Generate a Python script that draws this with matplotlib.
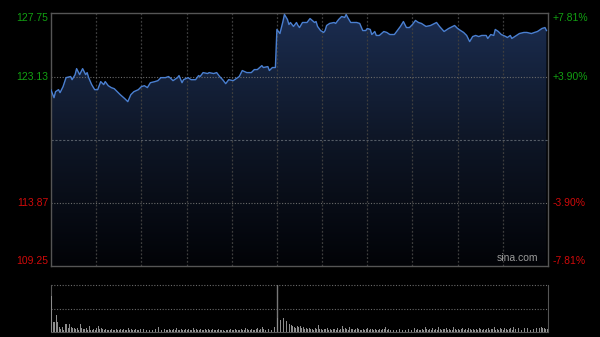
import numpy as np
import matplotlib.pyplot as plt
from matplotlib.colors import LinearSegmentedColormap
from matplotlib.transforms import blended_transform_factory

# intraday price (minutes from open, HK session: 330 minutes incl. lunch split at 150)
minutes = [0, 2, 3, 5, 6, 8, 10, 13, 14, 16, 17, 19, 20, 21, 23, 24, 25, 27, 29, 31,
           33, 35, 36, 38, 40, 42, 44, 46, 49, 51, 53, 55, 58, 60, 62, 64, 66, 69, 71, 73,
           76, 78, 79, 81, 84, 85, 87, 88, 91, 93, 96, 98, 99, 101, 104, 105, 108, 110, 112, 114,
           116, 118, 121, 124, 125, 127, 130, 133, 135, 137, 140, 141, 144, 145, 147, 149,
           150, 152, 154, 155, 157, 158, 159, 161, 163, 164, 165, 167, 170, 172, 175, 176, 177, 179,
           181, 182, 183, 185, 188, 189, 191, 193, 195, 196, 197, 199, 201, 203, 205, 207, 209, 210,
           212, 213, 215, 216, 218, 221, 223, 225, 228, 230, 232, 234, 236, 238, 240, 242, 244, 246,
           249, 252, 256, 258, 261, 264, 268, 270, 272, 274, 276, 278, 280, 282, 284, 286, 289, 290,
           292, 294, 295, 297, 299, 302, 303, 305, 306, 309, 311, 314, 316, 319, 321, 323, 326, 328, 329]
prices = [122.15, 121.58, 122.02, 122.17, 121.95, 122.39, 123.05, 123.13, 122.90, 123.27,
          123.71, 123.27, 123.49, 123.71, 123.27, 123.42, 123.05, 122.54, 122.17, 122.17,
          122.76, 122.54, 122.76, 122.46, 122.32, 122.24, 122.02, 121.80, 121.51, 121.29,
          121.80, 122.02, 122.17, 122.39, 122.46, 122.32, 122.68, 122.76, 122.83, 123.05,
          123.05, 123.13, 123.05, 122.83, 123.05, 123.20, 122.68, 122.90, 123.05, 122.90,
          122.90, 123.20, 123.13, 123.42, 123.35, 123.42, 123.35, 123.42, 123.13, 122.90,
          122.61, 122.90, 122.83, 123.05, 123.13, 123.57, 123.42, 123.42, 123.64, 123.64,
          123.93, 123.79, 123.86, 123.57, 123.79, 123.79,
          126.58, 126.28, 127.16, 127.68, 127.31, 126.94, 127.09, 126.80, 127.09, 126.87,
          126.72, 127.09, 127.09, 127.38, 127.09, 127.16, 126.80, 126.50, 126.36, 126.50,
          126.87, 127.02, 127.09, 127.02, 127.31, 127.53, 127.46, 127.68, 127.46, 127.09,
          127.09, 127.09, 127.02, 126.50, 126.50, 126.65, 126.58, 126.21, 126.43, 126.14,
          126.14, 126.43, 126.36, 126.21, 126.21, 126.50, 126.80, 127.16, 126.72, 126.72,
          126.94, 127.24, 127.09, 127.02, 126.80, 126.87, 127.09, 126.80, 126.43, 126.65,
          126.87, 126.65, 126.50, 126.36, 126.14, 125.69, 126.06, 126.14, 126.06, 126.14,
          126.14, 125.92, 126.21, 126.14, 126.58, 126.43, 126.21, 126.06, 125.99, 126.14,
          125.92, 126.14, 126.28, 126.36, 126.36, 126.28, 126.36, 126.43, 126.65, 126.72, 126.50]

volume = [36, 10, 10, 17, 10, 5, 3, 5, 2, 8, 8, 4, 8, 5, 4, 4, 3, 4, 2, 8,
          4, 3, 3, 4, 2, 6, 2, 2, 3, 2, 4, 6, 3, 4, 3, 2, 3, 2, 2, 2,
          3, 2, 2, 3, 2, 2, 3, 2, 3, 2, 2, 4, 2, 3, 2, 2, 3, 2, 2, 3,
          2, 3, 2, 2, 4, 2, 3, 2, 2, 3, 2, 5, 3, 2, 2, 3, 2, 2, 3, 2,
          2, 3, 2, 4, 2, 2, 3, 2, 2, 3, 2, 3, 2, 2, 4, 2, 3, 2, 2, 3,
          2, 2, 3, 2, 3, 2, 2, 3, 2, 2, 2, 3, 2, 2, 2, 1, 2, 2, 2, 3,
          2, 2, 3, 2, 2, 2, 3, 2, 2, 4, 3, 2, 2, 3, 2, 2, 3, 4, 2, 3,
          5, 3, 2, 4, 3, 6, 2, 3, 5, 2,
          14, 12, 12, 10, 14, 9, 11, 7, 8, 7, 6, 5, 4, 6, 5, 6, 4, 5, 3, 4,
          3, 4, 3, 3, 2, 4, 3, 7, 3, 3, 2, 3, 3, 4, 2, 3, 2, 3, 3, 2,
          4, 2, 3, 6, 3, 4, 3, 2, 5, 3, 3, 2, 3, 4, 3, 2, 2, 3, 2, 3,
          4, 2, 3, 3, 2, 3, 2, 2, 3, 2, 3, 3, 5, 2, 3, 2, 2, 2, 3, 2,
          2, 3, 2, 2, 3, 2, 6, 3, 2, 2, 2, 4, 2, 3, 2, 2, 3, 2, 5, 3,
          2, 3, 2, 4, 2, 3, 2, 5, 3, 2, 3, 3, 4, 2, 3, 2, 2, 5, 3, 2,
          3, 2, 3, 4, 2, 3, 2, 4, 3, 2, 3, 2, 3, 2, 4, 3, 2, 3, 2, 3,
          4, 2, 3, 3, 5, 2, 3, 2, 4, 3, 2, 4, 3, 2, 3, 4, 2, 5, 3, 3,
          4, 3, 2, 3, 4, 3, 4, 3, 2, 4, 3, 4, 4, 3, 4, 5, 4, 4, 3, 3]

left_labels = ['127.75', '123.13', '113.87', '109.25']
left_values = [127.75, 123.13, 113.87, 109.25]
right_labels = ['+7.81%', '+3.90%', '-3.90%', '-7.81%']
prev_close = 118.51
ymin, ymax = 109.25, 127.75
session = 330
lunch = 150

green = '#12a012'
red = '#d00a0a'
grid_c = '#3e3e3e'

fig = plt.figure(figsize=(6, 3.37), dpi=100, facecolor='black')
ax = fig.add_axes([0.085, 0.2107, 0.8283, 0.7493])
ax.set_facecolor('black')
ax.set_xlim(0, session)
ax.set_ylim(ymin, ymax)

# gradient area under the line
poly = ax.fill_between(minutes, prices, ymin, color='none', lw=0)
cmap = LinearSegmentedColormap.from_list('area', ['#020307', '#0e1626', '#1b2d50'])
grad = np.linspace(1, 0, 256).reshape(-1, 1)
im = ax.imshow(grad, extent=[0, session, ymin, ymax], aspect='auto', cmap=cmap,
               origin='upper', zorder=1)
im.set_clip_path(poly.get_paths()[0], transform=ax.transData)

for m in range(30, session, 30):
    ax.axvline(m, color=grid_c, lw=0.9, ls=(0, (1.5, 1.5)), zorder=2)
for v in [123.13, 113.87]:
    ax.axhline(v, color='#6a6a6a', lw=0.8, ls=(0, (1, 1.5)), zorder=2)
ax.axhline(prev_close, color='#555c66', lw=0.8, ls=(0, (2, 1.5)), zorder=2)

ax.plot(minutes, prices, color='#4a7fd0', lw=1.0, zorder=3)

for s in ax.spines.values():
    s.set_color('#555555')
    s.set_linewidth(1)
ax.set_xticks([])
ax.set_yticks([])

tr = blended_transform_factory(ax.transAxes, ax.transData)
vas = ['top', 'center', 'center', 'bottom']
for i in range(4):
    c = green if i < 2 else red
    ax.text(-0.006, left_values[i], left_labels[i], transform=tr, ha='right', va=vas[i],
            color=c, fontsize=7.5, family='Liberation Sans')
    ax.text(1.009, left_values[i], right_labels[i], transform=tr, ha='left', va=vas[i],
            color=c, fontsize=7.5, family='Liberation Sans')
ax.text(0.98, 0.012, 'sina.com', transform=ax.transAxes, ha='right', va='bottom',
        color='#9a9a9a', fontsize=7.5, family='Liberation Sans', zorder=4)

# volume panel
vax = fig.add_axes([0.085, 0.0148, 0.8283, 0.1395])
vax.set_facecolor('black')
vax.set_xlim(0, session)
vax.set_ylim(0, 47)
vax.bar(np.arange(len(volume)) + 0.4, volume, width=0.6, color='#8c8c8c', zorder=3)
vax.axhline(47, color='#6a6a6a', lw=0.8, ls=(0, (1, 1.5)), clip_on=False)
vax.axhline(23.5, color='#6a6a6a', lw=0.8, ls=(0, (1, 1.5)))
vax.axvline(lunch, color='#777777', lw=1)
vax.spines['top'].set_visible(False)
for k in ['left', 'right', 'bottom']:
    vax.spines[k].set_color('#555555')
vax.set_xticks([])
vax.set_yticks([])

plt.savefig('out.png', dpi=100, facecolor='black')
